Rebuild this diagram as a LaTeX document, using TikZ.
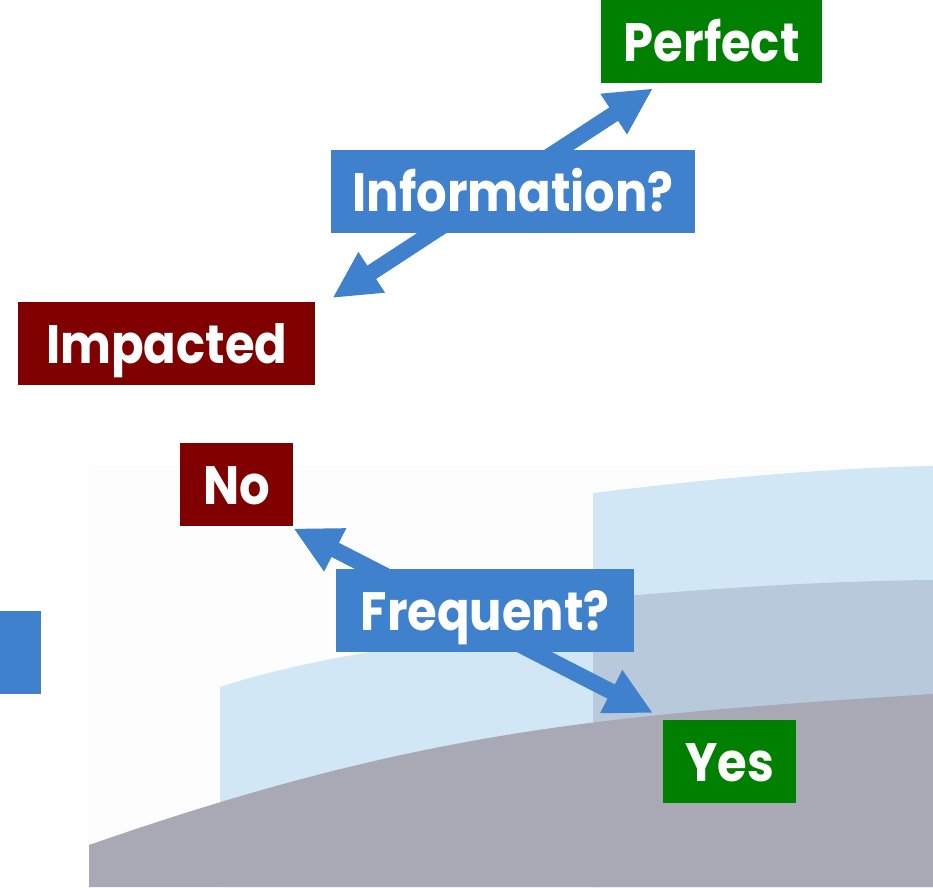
\documentclass[tikz,border=0pt]{standalone}
\usepackage{fontspec}
\setmainfont{Poppins}[FakeStretch=0.89]
\usetikzlibrary{arrows.meta,calc}
\definecolor{boxblue}{RGB}{63,129,205}
\definecolor{darkred}{RGB}{128,0,0}
\definecolor{darkgreen}{RGB}{0,128,0}
\definecolor{paleblue}{RGB}{209,231,245}
\definecolor{greyblue}{RGB}{184,201,220}
\definecolor{slategrey}{RGB}{169,169,182}
\definecolor{faint}{RGB}{253,253,254}
\pgfdeclarelayer{bg}
\pgfdeclarelayer{arrowlayer}
\pgfsetlayers{bg,arrowlayer,main}
\begin{document}
\begin{tikzpicture}[x=1pt,y=-1pt,
  lbl/.style={inner sep=0pt, minimum height=83pt, text height=39pt, text depth=0pt,
    text=white, font=\fontsize{54}{60}\selectfont\bfseries, anchor=north west},
  qbox/.style={lbl, fill=boxblue},
  redbox/.style={lbl, fill=darkred},
  greenbox/.style={lbl, fill=darkgreen},
  arr/.style={draw=boxblue, line width=16pt,
    arrows={Triangle[length=47pt,width=45pt]-Triangle[length=47pt,width=45pt]}}]
\useasboundingbox (0,0) rectangle (933,887);
% nodes
\node[greenbox, minimum width=221pt] (perfect) at (601,0) {Perfect};
\node[qbox, minimum width=364pt] (info) at (331,150) {Information?};
\node[redbox, minimum width=297pt] (impacted) at (18,302) {Impacted};
\node[redbox, minimum width=113pt] (no) at (180,443) {No};
\node[qbox, minimum width=298pt] (freq) at (336,569) {Frequent?};
\node[greenbox, minimum width=133pt] (yes) at (663,720) {Yes};
\node[fill=boxblue, inner sep=0pt, minimum width=41pt, minimum height=83pt, anchor=north west] (side) at (0,611) {};
% arrow end points
\coordinate (perfecttip) at ($(perfect.south west)+(52,5)$);
\coordinate (impactedtip) at ($(impacted.north east)+(17,-4)$);
\coordinate (notip) at ($(no.south east)+(0,2)$);
\coordinate (yestip) at ($(yes.north west)+(-10,-7)$);
\begin{pgfonlayer}{arrowlayer}
\draw[arr] (impactedtip) -- (perfecttip);
\draw[arr] (notip) -- (yestip);
\end{pgfonlayer}
\begin{pgfonlayer}{bg}
\fill[faint] (89,465) rectangle (933,887);
\fill[paleblue] (593,887) -- (593,493) .. controls (700,480) and (820,468) .. (933,466) -- (933,887) -- cycle;
\fill[paleblue] (220,887) -- (220,687) .. controls (300,660) and (450,635) .. (600,625) -- (600,887) -- cycle;
\fill[greyblue] (593,887) -- (593,599) .. controls (700,589) and (820,581) .. (933,580) -- (933,887) -- cycle;
\fill[slategrey] (89,887) -- (89,845) .. controls (419,730) and (603,715) .. (933,694) -- (933,887) -- cycle;
\end{pgfonlayer}
\end{tikzpicture}
\end{document}
